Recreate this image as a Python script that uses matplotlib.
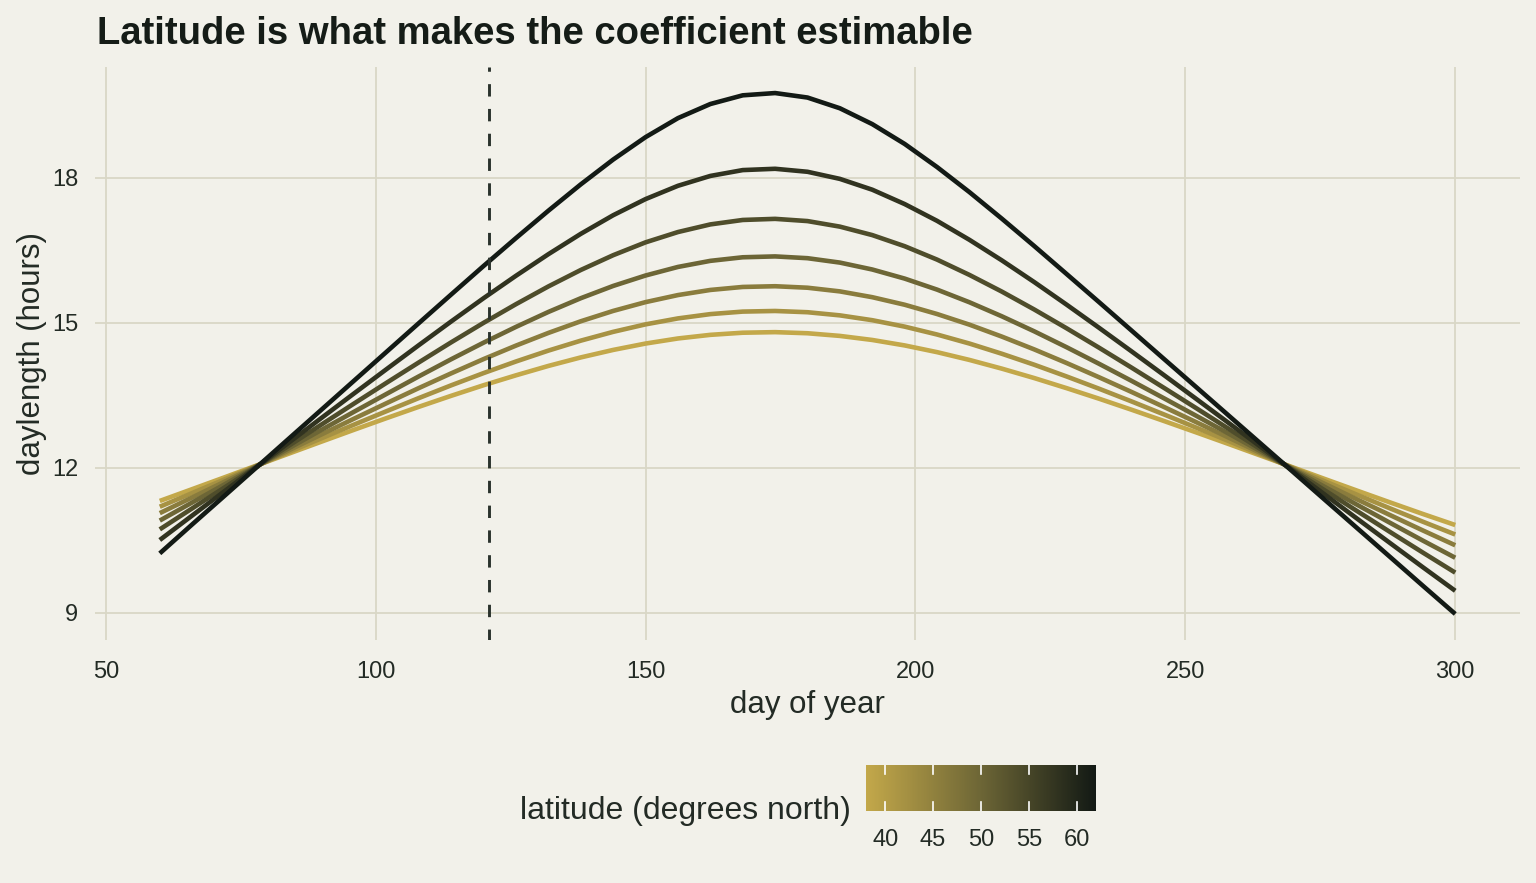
import numpy as np
import matplotlib
matplotlib.use("Agg")
import matplotlib.pyplot as plt
from matplotlib.colors import LinearSegmentedColormap, Normalize

plt.rcParams["font.family"] = ["Liberation Sans", "DejaVu Sans"]

# day of year, one point every 6 days
days = list(range(60, 301, 6))

# daylength (hours), one series per latitude
lat38 = [11.313, 11.557, 11.802, 12.049, 12.296, 12.542, 12.786, 13.026, 13.261, 13.489, 13.708,
         13.913, 14.107, 14.283, 14.438, 14.570, 14.675, 14.750, 14.794, 14.806, 14.783, 14.728,
         14.644, 14.531, 14.392, 14.231, 14.051, 13.856, 13.647, 13.429, 13.202, 12.969, 12.732,
         12.492, 12.249, 12.005, 11.761, 11.519, 11.280, 11.044, 10.815]
lat42 = [11.194, 11.476, 11.759, 12.043, 12.329, 12.612, 12.893, 13.170, 13.442, 13.706, 13.959,
         14.199, 14.424, 14.630, 14.812, 14.967, 15.090, 15.179, 15.231, 15.244, 15.218, 15.153,
         15.053, 14.920, 14.757, 14.570, 14.359, 14.132, 13.889, 13.636, 13.374, 13.105, 12.831,
         12.554, 12.274, 11.993, 11.712, 11.433, 11.156, 10.884, 10.619]
lat46 = [11.061, 11.385, 11.711, 12.038, 12.366, 12.692, 13.016, 13.335, 13.649, 13.954, 14.249,
         14.528, 14.790, 15.031, 15.245, 15.427, 15.573, 15.679, 15.741, 15.756, 15.725, 15.649,
         15.529, 15.373, 15.181, 14.961, 14.714, 14.449, 14.167, 13.873, 13.570, 13.260, 12.944,
         12.625, 12.303, 11.980, 11.657, 11.335, 11.017, 10.703, 10.396]
lat50 = [10.907, 11.281, 11.656, 12.032, 12.410, 12.786, 13.159, 13.527, 13.891, 14.246, 14.589,
         14.915, 15.224, 15.508, 15.762, 15.978, 16.155, 16.281, 16.355, 16.373, 16.336, 16.245,
         16.102, 15.914, 15.686, 15.424, 15.134, 14.823, 14.494, 14.152, 13.800, 13.440, 13.076,
         12.708, 12.337, 11.965, 11.593, 11.223, 10.856, 10.493, 10.138]
lat54 = [10.725, 11.159, 11.592, 12.027, 12.463, 12.897, 13.329, 13.757, 14.180, 14.596, 14.999,
         15.385, 15.752, 16.092, 16.398, 16.664, 16.877, 17.035, 17.127, 17.150, 17.104, 16.989,
         16.814, 16.584, 16.307, 15.990, 15.645, 15.275, 14.886, 14.485, 14.074, 13.656, 13.234,
         12.807, 12.379, 11.949, 11.520, 11.091, 10.666, 10.245, 9.830]
lat58 = [10.505, 11.011, 11.515, 12.021, 12.528, 13.034, 13.538, 14.039, 14.537, 15.028, 15.509,
         15.973, 16.419, 16.840, 17.225, 17.559, 17.834, 18.038, 18.159, 18.186, 18.124, 17.977,
         17.753, 17.456, 17.109, 16.716, 16.291, 15.842, 15.375, 14.897, 14.411, 13.920, 13.426,
         12.929, 12.430, 11.931, 11.431, 10.932, 10.436, 9.942, 9.454]
lat62 = [10.228, 10.827, 11.420, 12.015, 12.611, 13.206, 13.802, 14.397, 14.993, 15.586, 16.176,
         16.753, 17.319, 17.864, 18.377, 18.841, 19.234, 19.526, 19.706, 19.753, 19.660, 19.438,
         19.110, 18.700, 18.222, 17.703, 17.154, 16.588, 16.009, 15.428, 14.842, 14.255, 13.670,
         13.083, 12.496, 11.909, 11.321, 10.734, 10.147, 9.559, 8.975]

latitudes = [38, 42, 46, 50, 54, 58, 62]
series = [lat38, lat42, lat46, lat50, lat54, lat58, lat62]
marker_day = 121

x_ticks = [50, 100, 150, 200, 250, 300]
y_ticks = [9, 12, 15, 18]
bar_ticks = [40, 45, 50, 55, 60]

bg = "#f2f1ea"
grid_col = "#d9d7c6"
text_col = "#232b25"
cmap = LinearSegmentedColormap.from_list("lat", ["#c3a84a", "#6d6636", "#131a15"])
norm = Normalize(vmin=38, vmax=62)

W, H = 1536, 883
fig = plt.figure(figsize=(W / 100, H / 100), dpi=100, facecolor=bg)
ax = fig.add_axes([95 / W, 1 - 640 / H, (1520 - 95) / W, (640 - 67) / H])
ax.set_facecolor(bg)

for lat, vals in zip(latitudes, series):
    ax.plot(days, vals, color=cmap(norm(lat)), linewidth=3.3, solid_capstyle="butt", zorder=3)

ax.axvline(marker_day, color="#2a322c", linewidth=2.1, linestyle=(0.5, (4.25, 4.25)), zorder=4)

ax.set_xlim(48, 312)
ax.set_ylim(8.436, 20.292)
ax.set_xticks(x_ticks)
ax.set_yticks(y_ticks)
ax.grid(True, color=grid_col, linewidth=1.3, zorder=0)
ax.set_axisbelow(True)
for s in ax.spines.values():
    s.set_visible(False)
ax.tick_params(length=0, labelsize=17, labelcolor=text_col)
ax.tick_params(axis="x", pad=15)
ax.tick_params(axis="y", pad=12)
ax.set_xlabel("day of year", fontsize=22.5, color=text_col, labelpad=5)
ax.set_ylabel("daylength (hours)", fontsize=22.5, color=text_col, labelpad=4)

fig.text(97 / W, 1 - 44 / H, "Latitude is what makes the coefficient estimable",
         fontsize=27.5, fontweight="bold", color="#151c17", ha="left", va="baseline")

# colour bar legend
cax = fig.add_axes([866 / W, 1 - 811 / H, 230 / W, 46 / H])
grad = np.linspace(38, 62, 300).reshape(1, -1)
cax.imshow(grad, aspect="auto", cmap=cmap, norm=norm, extent=[38, 62, 0, 1])
cax.set_xlim(38, 62)
cax.set_ylim(0, 1)
for t in bar_ticks:
    cax.plot([t, t], [0, 0.2], color="white", linewidth=1.2)
    cax.plot([t, t], [0.8, 1], color="white", linewidth=1.2)
for s in cax.spines.values():
    s.set_visible(False)
cax.set_yticks([])
cax.set_xticks(bar_ticks)
cax.tick_params(length=0, labelsize=17, labelcolor=text_col, pad=13)

fig.text(851 / W, 1 - 819 / H, "latitude (degrees north)", fontsize=23, color=text_col,
         ha="right", va="baseline")

fig.savefig("out.png", dpi=100, facecolor=bg)
